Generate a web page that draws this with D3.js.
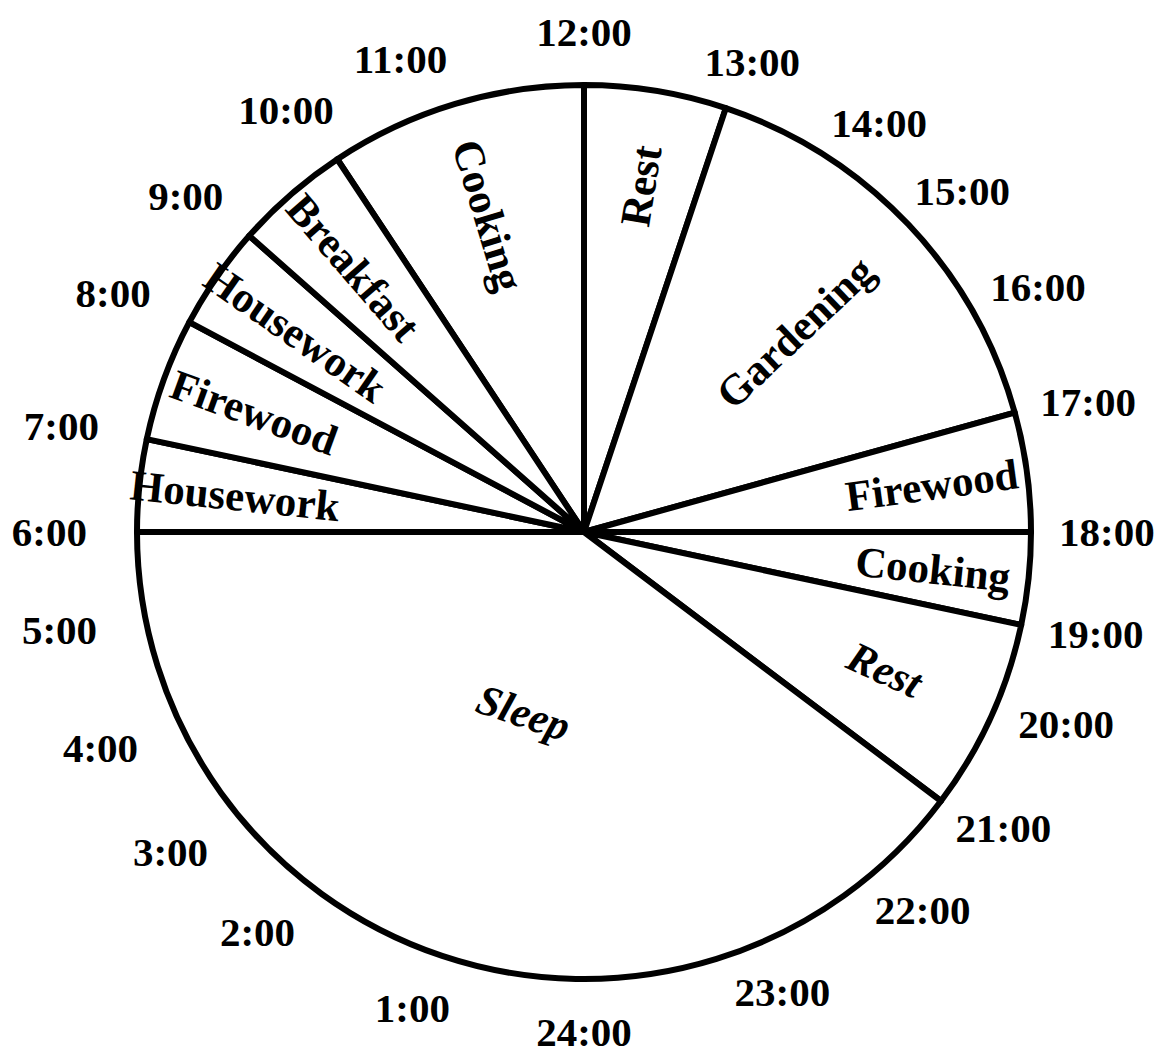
<!DOCTYPE html>
<html>
<head>
<meta charset="utf-8">
<script src="https://cdn.jsdelivr.net/npm/d3@7"></script>
<style>
  body { margin: 0; background: #fff; }
  svg { display: block; background: #fff; }
  text { font-family: "Liberation Serif", "Times New Roman", serif; font-weight: bold; fill: #000; }
</style>
</head>
<body>
<svg id="chart"></svg>
<script>
// a day's activities, clockwise round the 24 hour clock
var activities = ["Cooking", "Rest", "Gardening", "Firewood", "Cooking", "Rest", "Sleep", "Housework", "Firewood", "Housework", "Breakfast"];
var startHours = [10, 12, 13, 17, 18, 19, 21, 6, 7, 8, 9];
var endHours   = [12, 13, 17, 18, 19, 21, 6, 7, 8, 9, 10];

var hours = [1, 2, 3, 4, 5, 6, 7, 8, 9, 10, 11, 12, 13, 14, 15, 16, 17, 18, 19, 20, 21, 22, 23, 24];
var hourLabels = ["1:00", "2:00", "3:00", "4:00", "5:00", "6:00", "7:00", "8:00", "9:00", "10:00", "11:00", "12:00",
                  "13:00", "14:00", "15:00", "16:00", "17:00", "18:00", "19:00", "20:00", "21:00", "22:00", "23:00", "24:00"];

var width = 1160, height = 1055,
    cx = 584, cy = 532,
    radius = 447;

// the printed clock face is not evenly spaced, so hours go to angles piecewise
// (degrees clockwise from the top, 12:00 at the top)
var clock = d3.scaleLinear()
    .domain(d3.range(25))
    .range([180, 199, 218, 231, 245, 259, 270, 282, 298, 311.5, 326.5, 340,
            360, 378.5, 394, 406, 420, 434.5, 450, 462, 473, 487, 500, 518, 540]
      .map(function(d) { return d * Math.PI / 180; }));

var slices = activities.map(function(name, i) {
  var a0 = clock(startHours[i]),
      a1 = clock(endHours[i]);
  if (a1 <= a0) a1 += 2 * Math.PI;
  return {
    name: name,
    hours: (endHours[i] - startHours[i] + 24) % 24,
    startAngle: a0,
    endAngle: a1
  };
});

var italic = [5, 6]; // evening rest and sleep are set in italics

var svg = d3.select("#chart")
    .attr("width", width)
    .attr("height", height);

var pie = svg.append("g")
    .attr("transform", "translate(" + cx + "," + cy + ")");

var arc = d3.arc()
    .innerRadius(0)
    .outerRadius(radius);

pie.selectAll("path.slice")
    .data(slices).enter()
  .append("path")
    .attr("class", "slice")
    .attr("d", arc)
    .attr("fill", "#fff")
    .attr("stroke", "#000")
    .attr("stroke-width", 6)
    .attr("stroke-linejoin", "round");

// activity names, radial except for the big sleep slice
pie.selectAll("text.activity")
    .data(slices).enter()
  .append("text")
    .attr("class", "activity")
    .attr("text-anchor", "middle")
    .attr("dy", "0.35em")
    .style("font-size", "43px")
    .style("font-style", function(d, i) { return italic.indexOf(i) >= 0 ? "italic" : "normal"; })
    .attr("transform", function(d) {
      var mid = (d.startAngle + d.endAngle) / 2,
          r = radius * (0.83 - 0.045 * d.hours),
          deg = (mid * 180 / Math.PI) % 360,
          rot;
      if (d.hours >= 6) rot = deg - 180;
      else rot = deg < 180 ? deg - 90 : deg - 270;
      return "translate(" + (r * Math.sin(mid)) + "," + (-r * Math.cos(mid)) + ")rotate(" + rot + ")";
    })
    .text(function(d) { return d.name; });

// hour labels round the rim; the printed ones sit further out on the left
var textHeight = 28;
function gap(a) { return 39 - 11 * Math.sin(a); }

pie.selectAll("text.hour")
    .data(hours).enter()
  .append("text")
    .attr("class", "hour")
    .attr("text-anchor", "middle")
    .attr("dy", "0.35em")
    .style("font-size", "41px")
    .text(function(d, i) { return hourLabels[i]; })
    .attr("x", function(d) {
      var a = clock(d), w = this.getComputedTextLength();
      return Math.sin(a) * (radius + gap(a) + w / 2);
    })
    .attr("y", function(d) {
      var a = clock(d);
      return -Math.cos(a) * (radius + gap(a) + textHeight / 2);
    });
</script>
</body>
</html>
